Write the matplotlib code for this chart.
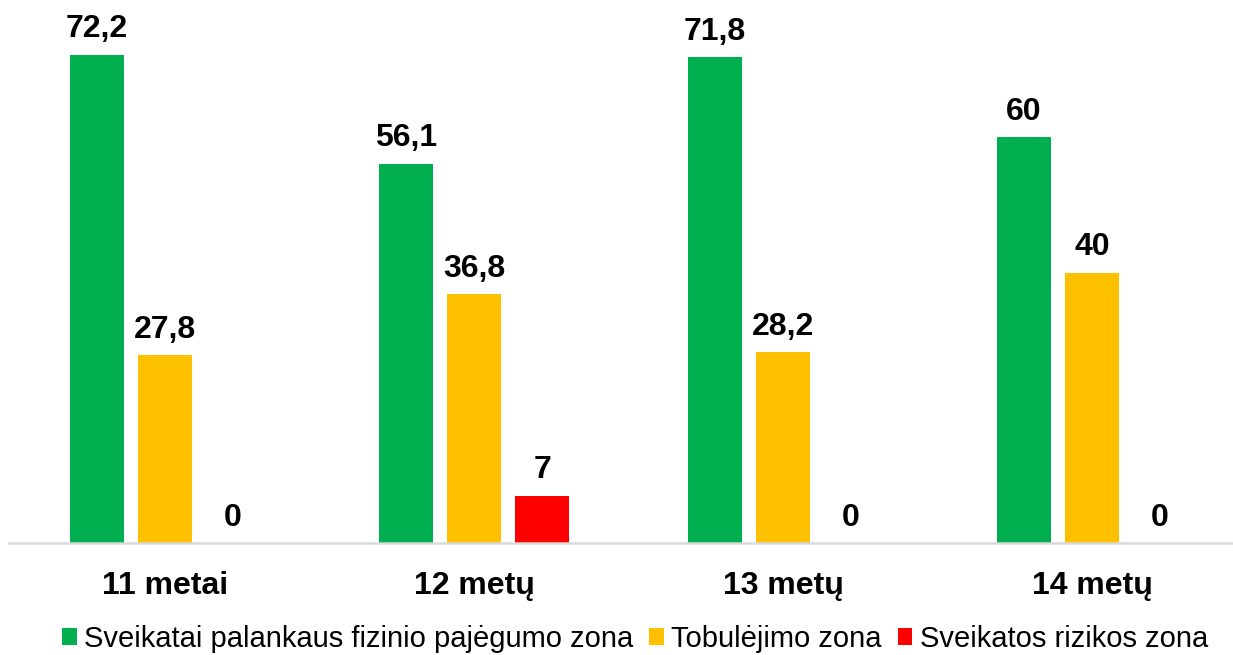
import numpy as np
import matplotlib
matplotlib.use("Agg")
import matplotlib.pyplot as plt

plt.rcParams["font.family"] = ["Liberation Sans", "DejaVu Sans"]

categories = ["11 metai", "12 metų", "13 metų", "14 metų"]
series_names = ["Sveikatai palankaus fizinio pajėgumo zona", "Tobulėjimo zona", "Sveikatos rizikos zona"]
green_vals = [72.2, 56.1, 71.8, 60]
yellow_vals = [27.8, 36.8, 28.2, 40]
red_vals = [0, 7, 0, 0]
colors = ["#00B050", "#FFC000", "#FF0000"]

def fmt(v):
    s = ("%.1f" % v).rstrip("0").rstrip(".")
    return s.replace(".", ",")

fig = plt.figure(figsize=(12.33, 6.55), dpi=100)
ax = fig.add_axes([9 / 1233, 112 / 655, 1224 / 1233, 541 / 655])

x = np.arange(len(categories))
w = 0.175
off = 0.22
for i, (vals, name) in enumerate(zip([green_vals, yellow_vals, red_vals], series_names)):
    pos = x + (i - 1) * off
    ax.bar(pos, vals, width=w, color=colors[i], label=name, zorder=2)
    for p, v in zip(pos, vals):
        ax.annotate(fmt(v), (p, v), xytext=(0, 12.5), textcoords="offset points",
                    ha="center", va="baseline", fontsize=23, fontweight="bold")

ax.set_xlim(-0.505, -0.505 + 1224 / 309)
ax.set_ylim(0, 80)
ax.set_yticks([])
ax.set_xticks(x)
ax.set_xticklabels(categories, fontsize=23, fontweight="bold")
ax.tick_params(axis="x", length=0, pad=20)
for s in ["top", "right", "left"]:
    ax.spines[s].set_visible(False)
ax.spines["bottom"].set_color("#D9D9D9")
ax.spines["bottom"].set_linewidth(1.8)

fig.legend(loc="center", bbox_to_anchor=(635 / 1233, 1 - 639 / 655), ncol=3,
           frameon=False, fontsize=21, handlelength=0.5, handleheight=0.5,
           handletextpad=0.25, columnspacing=0.55, borderaxespad=0)

fig.savefig("out.png", dpi=100)
